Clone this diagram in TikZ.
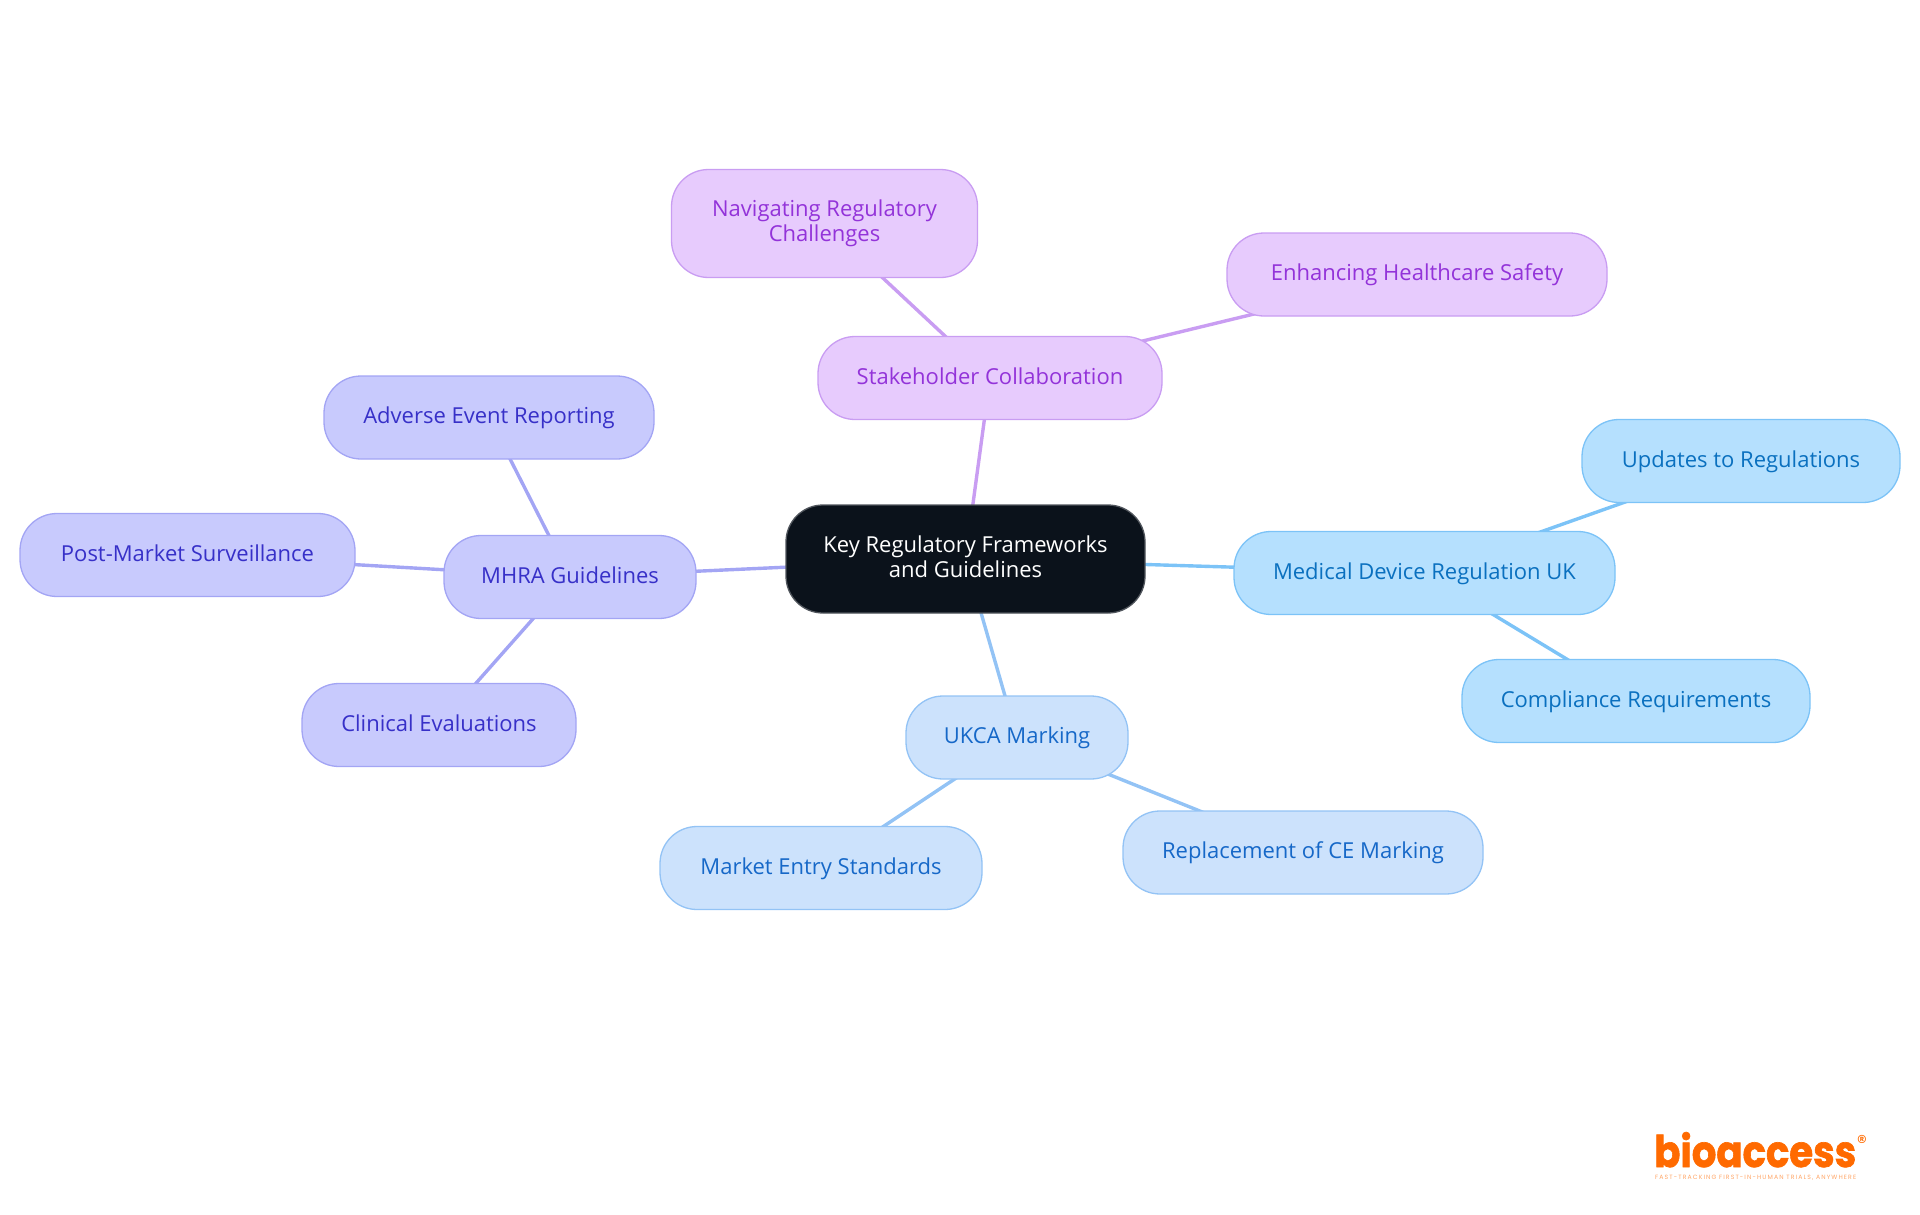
\documentclass[tikz,border=0pt]{standalone}
\usepackage{fontspec}
\setmainfont{Open Sans}
\newfontfamily\logofont[BoldFeatures={FakeBold=1.5}]{Poppins}
\newfontfamily\tagfont[LetterSpace=18]{Poppins}
\usetikzlibrary{backgrounds}
\definecolor{rootfill}{HTML}{0B121B}\definecolor{rootedge}{HTML}{50555C}
\definecolor{purplefill}{HTML}{E7CBFD}\definecolor{purpleedge}{HTML}{C99DF2}\definecolor{purpletext}{HTML}{9333D9}
\definecolor{indigofill}{HTML}{C8CAFD}\definecolor{indigoedge}{HTML}{A3A5F4}\definecolor{indigotext}{HTML}{3730C8}
\definecolor{skyfill}{HTML}{B5E0FE}\definecolor{skyedge}{HTML}{7CC3F7}\definecolor{skytext}{HTML}{0A70BF}
\definecolor{bluefill}{HTML}{CCE2FC}\definecolor{blueedge}{HTML}{93C3F5}\definecolor{bluetext}{HTML}{1668C8}
\definecolor{logoorange}{HTML}{FF6A00}
\tikzset{
  x=1pt,y=-1pt,
  mapnode/.style={rectangle,rounded corners=37pt,line width=1.3pt,inner sep=0pt,align=center,
    font=\fontsize{22}{25}\selectfont,
    execute at begin node={\vrule width 0pt height 18pt depth 0pt\relax},
    execute at end node={\vrule width 0pt height 0pt depth 5pt\relax}},
  rootnode/.style={mapnode,fill=rootfill,draw=rootedge,text=white},
  purplenode/.style={mapnode,fill=purplefill,draw=purpleedge,text=purpletext},
  indigonode/.style={mapnode,fill=indigofill,draw=indigoedge,text=indigotext},
  skynode/.style={mapnode,fill=skyfill,draw=skyedge,text=skytext},
  bluenode/.style={mapnode,fill=bluefill,draw=blueedge,text=bluetext},
  link/.style={line width=3.4pt},
}
\begin{document}
\begin{tikzpicture}
\useasboundingbox (0,0) rectangle (1920,1215);
\node[rootnode,minimum width=359pt,minimum height=108pt] (root) at (965.5,559) {Key Regulatory Frameworks\\and Guidelines};
\node[purplenode,minimum width=344pt,minimum height=83pt] (stake) at (990,378) {Stakeholder Collaboration};
\node[purplenode,minimum width=306pt,minimum height=108pt] (nav) at (824.5,223.5) {Navigating Regulatory\\Challenges};
\node[purplenode,minimum width=380pt,minimum height=83pt] (enh) at (1417,274.5) {Enhancing Healthcare Safety};
\node[skynode,minimum width=381pt,minimum height=83pt] (mdr) at (1424.5,573) {Medical Device Regulation UK};
\node[skynode,minimum width=318pt,minimum height=83pt] (upd) at (1741,461) {Updates to Regulations};
\node[skynode,minimum width=348pt,minimum height=83pt] (comp) at (1636,701) {Compliance Requirements};
\node[bluenode,minimum width=222pt,minimum height=83pt] (ukca) at (1017,737.5) {UKCA Marking};
\node[bluenode,minimum width=322pt,minimum height=83pt] (mkt) at (821,868) {Market Entry Standards};
\node[bluenode,minimum width=360pt,minimum height=83pt] (repl) at (1303,852.5) {Replacement of CE Marking};
\node[indigonode,minimum width=252pt,minimum height=83pt] (mhra) at (570,577) {MHRA Guidelines};
\node[indigonode,minimum width=330pt,minimum height=83pt] (adv) at (489,417.5) {Adverse Event Reporting};
\node[indigonode,minimum width=335pt,minimum height=83pt] (post) at (187.5,555) {Post-Market Surveillance};
\node[indigonode,minimum width=274pt,minimum height=83pt] (clin) at (439,725) {Clinical Evaluations};
\begin{scope}[on background layer]
\draw[link,purpleedge] (root.center) -- (stake.center);
\draw[link,purpleedge] (stake.center) -- (nav.center);
\draw[link,purpleedge] (stake.center) -- (enh.center);
\draw[link,skyedge] (root.center) -- (mdr.center);
\draw[link,skyedge] (mdr.center) -- (upd.center);
\draw[link,skyedge] (mdr.center) -- (comp.center);
\draw[link,blueedge] (root.center) -- (ukca.center);
\draw[link,blueedge] (ukca.center) -- (mkt.center);
\draw[link,blueedge] (ukca.center) -- (repl.center);
\draw[link,indigoedge] (root.center) -- (mhra.center);
\draw[link,indigoedge] (mhra.center) -- (adv.center);
\draw[link,indigoedge] (mhra.center) -- (post.center);
\draw[link,indigoedge] (mhra.center) -- (clin.center);
\end{scope}
\node[anchor=base west,inner sep=0pt,text=logoorange,font=\logofont\bfseries\fontsize{52}{52}\selectfont] (logo) at (1654,1167) {\resizebox{202pt}{35pt}{bioaccess}};
\node[inner sep=0pt,text=logoorange,font=\logofont\fontsize{20}{20}\selectfont] (reg) at (1862,1142) {®};
\node[anchor=base west,inner sep=0pt,text=logoorange!60,font=\tagfont\fontsize{8}{8}\selectfont] (tag) at (1655,1179) {\resizebox{201pt}{!}{FAST-TRACKING FIRST-IN-HUMAN TRIALS, ANYWHERE}};
\end{tikzpicture}
\end{document}
